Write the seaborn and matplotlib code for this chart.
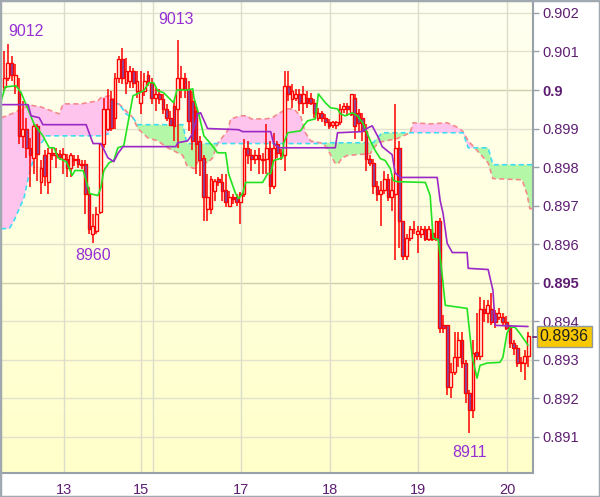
import numpy as np
import pandas as pd
import matplotlib
matplotlib.use('Agg')
import matplotlib.pyplot as plt
import matplotlib.transforms as mtransforms
from matplotlib.colors import LinearSegmentedColormap
from matplotlib.patches import Rectangle
import seaborn as sns

# H1 candles
opens = [0.90008, 0.90032, 0.90070, 0.90011, 0.89998, 0.89881, 0.89900, 0.89850, 0.89824, 0.89907,
         0.89760, 0.89830, 0.89760, 0.89837, 0.89830, 0.89835, 0.89822, 0.89822, 0.89798, 0.89822,
         0.89822, 0.89809, 0.89809, 0.89731, 0.89627, 0.89635, 0.89682, 0.89861, 0.89900, 0.89977,
         0.89928, 0.90032, 0.90081, 0.90019, 0.90024, 0.90050, 0.89998, 0.89967, 0.89998, 0.90039,
         0.90019, 0.89980, 0.89990, 0.89977, 0.89951, 0.89928, 0.89959, 0.89951, 0.90003, 0.90032,
         0.90003, 0.89972, 0.89946, 0.89868, 0.89824, 0.89692, 0.89692, 0.89739, 0.89770, 0.89760,
         0.89741, 0.89700, 0.89721, 0.89721, 0.89708, 0.89731, 0.89850, 0.89832, 0.89822, 0.89832,
         0.89822, 0.89822, 0.89850, 0.89752, 0.89861, 0.89837, 0.89830, 0.90011, 0.89977, 0.89980,
         0.89990, 0.89967, 0.89980, 0.89980, 0.89967, 0.89928, 0.89941, 0.89928, 0.89918, 0.89910,
         0.89910, 0.89918, 0.89951, 0.89959, 0.89938, 0.89980, 0.89941, 0.89928, 0.89894, 0.89822,
         0.89811, 0.89752, 0.89731, 0.89741, 0.89770, 0.89721, 0.89731, 0.89850, 0.89661, 0.89570,
         0.89617, 0.89640, 0.89627, 0.89627, 0.89640, 0.89612, 0.89630, 0.89617, 0.89661, 0.89389,
         0.89389, 0.89229, 0.89267, 0.89306, 0.89350, 0.89291, 0.89213, 0.89169, 0.89319, 0.89309,
         0.89431, 0.89420, 0.89431, 0.89420, 0.89410, 0.89410, 0.89397, 0.89381, 0.89342, 0.89330,
         0.89293, 0.89291, 0.89309]
highs = [0.90102, 0.90120, 0.90089, 0.90068, 0.90032, 0.89972, 0.89928, 0.89876, 0.89912, 0.89912,
         0.89817, 0.89843, 0.89850, 0.89850, 0.89850, 0.89843, 0.89850, 0.89835, 0.89837, 0.89830,
         0.89830, 0.89817, 0.89817, 0.89747, 0.89679, 0.89695, 0.89861, 0.89980, 0.90003, 0.89998,
         0.90045, 0.90089, 0.90109, 0.90083, 0.90063, 0.90058, 0.90050, 0.90050, 0.90045, 0.90050,
         0.90032, 0.90006, 0.90003, 0.89990, 0.89964, 0.89946, 0.89972, 0.90130, 0.90063, 0.90045,
         0.90024, 0.89998, 0.89959, 0.89881, 0.89830, 0.89783, 0.89778, 0.89770, 0.89775, 0.89783,
         0.89783, 0.89739, 0.89729, 0.89729, 0.89734, 0.89874, 0.89868, 0.89848, 0.89843, 0.89850,
         0.89837, 0.89912, 0.89868, 0.89889, 0.89868, 0.89848, 0.90050, 0.90050, 0.90016, 0.90003,
         0.90003, 0.90011, 0.89998, 0.89993, 0.89977, 0.89954, 0.89946, 0.89938, 0.89925, 0.89920,
         0.89920, 0.89964, 0.89967, 0.89967, 0.89990, 0.89990, 0.89951, 0.89941, 0.89912, 0.89830,
         0.89822, 0.89765, 0.89765, 0.89791, 0.89783, 0.89773, 0.89964, 0.89868, 0.89661, 0.89627,
         0.89648, 0.89661, 0.89648, 0.89648, 0.89646, 0.89646, 0.89640, 0.89661, 0.89669, 0.89415,
         0.89389, 0.89291, 0.89371, 0.89371, 0.89371, 0.89298, 0.89221, 0.89350, 0.89420, 0.89462,
         0.89454, 0.89454, 0.89472, 0.89428, 0.89433, 0.89420, 0.89412, 0.89389, 0.89350, 0.89337,
         0.89306, 0.89324, 0.89371]
lows = [0.89998, 0.90024, 0.90024, 0.89990, 0.89861, 0.89850, 0.89824, 0.89747, 0.89783, 0.89765,
        0.89731, 0.89752, 0.89731, 0.89817, 0.89798, 0.89817, 0.89783, 0.89773, 0.89773, 0.89804,
        0.89798, 0.89796, 0.89679, 0.89627, 0.89602, 0.89627, 0.89679, 0.89850, 0.89894, 0.89894,
        0.89900, 0.90019, 0.90016, 0.89990, 0.90006, 0.90006, 0.89980, 0.89938, 0.89985, 0.90011,
        0.89964, 0.89946, 0.89964, 0.89938, 0.89920, 0.89907, 0.89868, 0.89850, 0.89980, 0.89980,
        0.89894, 0.89843, 0.89783, 0.89778, 0.89661, 0.89661, 0.89679, 0.89713, 0.89752, 0.89713,
        0.89695, 0.89695, 0.89705, 0.89700, 0.89653, 0.89721, 0.89809, 0.89791, 0.89809, 0.89783,
        0.89783, 0.89783, 0.89731, 0.89744, 0.89824, 0.89817, 0.89791, 0.89972, 0.89954, 0.89972,
        0.89946, 0.89938, 0.89954, 0.89962, 0.89928, 0.89920, 0.89918, 0.89907, 0.89900, 0.89902,
        0.89900, 0.89910, 0.89941, 0.89933, 0.89933, 0.89874, 0.89894, 0.89868, 0.89791, 0.89804,
        0.89731, 0.89713, 0.89648, 0.89731, 0.89713, 0.89687, 0.89558, 0.89591, 0.89558, 0.89558,
        0.89609, 0.89627, 0.89578, 0.89615, 0.89609, 0.89609, 0.89609, 0.89609, 0.89368, 0.89368,
        0.89208, 0.89200, 0.89260, 0.89280, 0.89278, 0.89187, 0.89109, 0.89148, 0.89298, 0.89298,
        0.89397, 0.89394, 0.89389, 0.89381, 0.89402, 0.89389, 0.89376, 0.89330, 0.89311, 0.89280,
        0.89267, 0.89247, 0.89280]
closes = [0.90032, 0.90070, 0.90039, 0.90039, 0.89881, 0.89900, 0.89850, 0.89832, 0.89907, 0.89835,
          0.89798, 0.89778, 0.89837, 0.89832, 0.89837, 0.89827, 0.89835, 0.89798, 0.89830, 0.89817,
          0.89809, 0.89806, 0.89731, 0.89640, 0.89648, 0.89679, 0.89861, 0.89951, 0.89951, 0.89902,
          0.90032, 0.90081, 0.90032, 0.90050, 0.90050, 0.90019, 0.90024, 0.89998, 0.90024, 0.90024,
          0.89980, 0.89990, 0.89977, 0.89951, 0.89928, 0.89910, 0.89907, 0.90032, 0.90032, 0.90003,
          0.89920, 0.89868, 0.89861, 0.89817, 0.89721, 0.89721, 0.89770, 0.89765, 0.89760, 0.89739,
          0.89708, 0.89721, 0.89718, 0.89708, 0.89731, 0.89850, 0.89830, 0.89822, 0.89832, 0.89822,
          0.89819, 0.89850, 0.89752, 0.89850, 0.89837, 0.89830, 0.90011, 0.89990, 0.89998, 0.89990,
          0.89967, 0.89990, 0.89967, 0.89967, 0.89941, 0.89941, 0.89928, 0.89918, 0.89907, 0.89918,
          0.89918, 0.89951, 0.89959, 0.89951, 0.89990, 0.89907, 0.89915, 0.89894, 0.89822, 0.89811,
          0.89752, 0.89731, 0.89741, 0.89770, 0.89721, 0.89741, 0.89850, 0.89661, 0.89570, 0.89617,
          0.89640, 0.89638, 0.89633, 0.89640, 0.89612, 0.89640, 0.89612, 0.89661, 0.89381, 0.89381,
          0.89229, 0.89267, 0.89306, 0.89350, 0.89291, 0.89213, 0.89169, 0.89317, 0.89309, 0.89431,
          0.89420, 0.89441, 0.89397, 0.89397, 0.89420, 0.89397, 0.89381, 0.89342, 0.89330, 0.89291,
          0.89291, 0.89309, 0.89361]

# Tenkan-sen (green) vertices
tenkan_x = [-0.8, 0.3, 3.2, 4.6, 8.1, 10.5, 12.2, 13.5, 14.6, 16.8, 17.6, 18.4, 19.2, 21.4, 22.2,
            23.2, 25.4, 26.2, 27.0, 28.4, 29.7, 30.8, 32.4, 34.9, 37.8, 39.2, 40.5, 41.6, 43.2, 45.9,
            46.8, 49.7, 51.1, 51.4, 52.7, 54.1, 55.9, 57.8, 60.0, 60.8, 61.9, 62.7, 63.5, 64.6, 65.4,
            70.0, 71.4, 72.2, 73.0, 75.4, 75.7, 76.8, 80.3, 81.1, 82.2, 84.3, 85.1, 87.0, 88.4, 90.3,
            91.1, 92.4, 94.3, 95.7, 97.3, 99.2, 100.5, 101.9, 103.2, 104.6, 105.4, 106.5, 114.1, 115.4,
            116.2, 117.6, 118.6, 119.5, 125.4, 126.8, 128.1, 128.9, 130.8, 134.3, 135.1, 136.2, 137.0,
            138.4, 139.7, 141.6, 141.9]
tenkan_y = [0.89972, 0.90008, 0.90011, 0.89993, 0.89912, 0.89881, 0.89850, 0.89850, 0.89824, 0.89814,
            0.89798, 0.89778, 0.89791, 0.89791, 0.89765, 0.89731, 0.89726, 0.89747, 0.89791, 0.89811,
            0.89817, 0.89850, 0.89855, 0.89985, 0.89998, 0.90019, 0.90019, 0.89998, 0.89993, 0.89967,
            0.90000, 0.90000, 0.90003, 0.89980, 0.89938, 0.89881, 0.89861, 0.89837, 0.89837, 0.89783,
            0.89752, 0.89731, 0.89718, 0.89731, 0.89760, 0.89760, 0.89783, 0.89783, 0.89817, 0.89824,
            0.89861, 0.89889, 0.89894, 0.89907, 0.89920, 0.89925, 0.89990, 0.89967, 0.89954, 0.89951,
            0.89938, 0.89933, 0.89941, 0.89933, 0.89912, 0.89868, 0.89843, 0.89822, 0.89817, 0.89796,
            0.89765, 0.89762, 0.89760, 0.89726, 0.89615, 0.89612, 0.89524, 0.89441, 0.89433, 0.89306,
            0.89252, 0.89285, 0.89291, 0.89293, 0.89306, 0.89368, 0.89384, 0.89384, 0.89368, 0.89342,
            0.89337]

# Kijun-sen (purple) vertices
kijun_x = [-0.8, 6.5, 7.3, 9.5, 10.5, 22.2, 23.5, 24.1, 26.2, 28.1, 29.7, 30.8, 32.2, 46.5, 47.0,
           49.7, 51.1, 52.4, 53.2, 55.1, 63.5, 64.6, 72.2, 73.0, 74.3, 89.7, 90.3, 97.0, 98.6, 99.7,
           101.4, 102.4, 105.1, 105.9, 107.3, 117.3, 118.1, 118.9, 120.0, 121.4, 125.4, 125.7, 131.1,
           132.4, 133.0, 141.9]
kijun_y = [0.89962, 0.89962, 0.89933, 0.89928, 0.89910, 0.89910, 0.89876, 0.89861, 0.89861, 0.89824,
           0.89814, 0.89835, 0.89853, 0.89853, 0.89863, 0.89868, 0.89887, 0.89938, 0.89941, 0.89900,
           0.89897, 0.89892, 0.89892, 0.89861, 0.89850, 0.89850, 0.89889, 0.89892, 0.89902, 0.89907,
           0.89876, 0.89853, 0.89832, 0.89785, 0.89773, 0.89773, 0.89713, 0.89679, 0.89602, 0.89578,
           0.89578, 0.89537, 0.89534, 0.89480, 0.89389, 0.89386]

# Senkou spans (cloud), shared x
cloud_x = [-0.8, 1.4, 2.7, 5.4, 6.8, 8.1, 10.0, 11.4, 14.9, 16.0, 20.8, 25.4, 26.2, 28.4, 30.3, 31.1,
           33.0, 34.9, 36.2, 38.9, 41.6, 44.3, 47.0, 48.4, 49.5, 51.4, 52.7, 55.1, 56.5, 57.8, 60.5,
           61.4, 64.1, 65.9, 66.8, 70.8, 72.7, 74.1, 76.8, 78.4, 80.3, 81.6, 83.0, 86.5, 87.8, 89.7,
           90.5, 91.6, 93.0, 99.2, 100.0, 101.4, 102.4, 106.5, 110.0, 110.8, 115.4, 120.0, 123.0,
           124.3, 125.7, 128.1, 131.1, 132.4, 140.3, 141.6, 142.4, 143.2]
span_a = [0.89928, 0.89936, 0.89941, 0.89954, 0.89962, 0.89959, 0.89956, 0.89951, 0.89938, 0.89964,
          0.89964, 0.89972, 0.89980, 0.89985, 0.89972, 0.89964, 0.89946, 0.89928, 0.89900, 0.89876,
          0.89868, 0.89850, 0.89837, 0.89830, 0.89804, 0.89796, 0.89817, 0.89811, 0.89824, 0.89861,
          0.89894, 0.89925, 0.89933, 0.89933, 0.89925, 0.89925, 0.89928, 0.89938, 0.89951, 0.89951,
          0.89933, 0.89889, 0.89868, 0.89861, 0.89843, 0.89809, 0.89809, 0.89824, 0.89830, 0.89835,
          0.89848, 0.89863, 0.89866, 0.89874, 0.89889, 0.89915, 0.89912, 0.89915, 0.89902, 0.89892,
          0.89868, 0.89843, 0.89811, 0.89770, 0.89767, 0.89731, 0.89692, 0.89692]
span_b = [0.89640, 0.89640, 0.89661, 0.89721, 0.89783, 0.89824, 0.89861, 0.89881, 0.89881, 0.89881,
          0.89881, 0.89881, 0.89881, 0.89887, 0.89964, 0.89964, 0.89938, 0.89928, 0.89910, 0.89910,
          0.89910, 0.89910, 0.89910, 0.89910, 0.89861, 0.89861, 0.89861, 0.89861, 0.89861, 0.89861,
          0.89861, 0.89861, 0.89861, 0.89861, 0.89861, 0.89861, 0.89861, 0.89861, 0.89861, 0.89861,
          0.89861, 0.89861, 0.89861, 0.89861, 0.89863, 0.89863, 0.89863, 0.89863, 0.89863, 0.89863,
          0.89863, 0.89879, 0.89889, 0.89889, 0.89889, 0.89889, 0.89889, 0.89889, 0.89889, 0.89889,
          0.89850, 0.89850, 0.89850, 0.89806, 0.89806, 0.89806, 0.89806, 0.89806]

day_pos = [16, 37, 40, 64, 88, 112, 136]
day_labels = ['13', '15', '', '17', '18', '19', '20']
price_ticks = [0.891, 0.892, 0.893, 0.894, 0.895, 0.896, 0.897, 0.898, 0.899, 0.900, 0.901, 0.902]
price_labels = ['0.891', '0.892', '0.893', '0.894', '0.895', '0.896', '0.897', '0.898', '0.899',
                '0.9', '0.901', '0.902']
bold_levels = ['0.9', '0.895']
# extreme labels: text, candle index, which side
marks = [('9012', 1, 'high'), ('9013', 47, 'high'), ('8960', 24, 'low'), ('8911', 126, 'low')]
last_price = 0.8936

df = pd.DataFrame({'open': opens, 'high': highs, 'low': lows, 'close': closes})
df['i'] = np.arange(len(df))
df['up'] = df['close'] >= df['open']

sns.set_style('white')
plt.rcParams['font.family'] = ['Liberation Sans', 'DejaVu Sans']

fig = plt.figure(figsize=(6.0, 4.97), dpi=100)
ax = fig.add_axes([0.002, 0.0483, 0.886, 0.9497])

xmin, xmax = -0.8, 143.2
ymin, ymax = 0.890057, 0.902311
ax.set_xlim(xmin, xmax)
ax.set_ylim(ymin, ymax)

# background gradient
cmap = LinearSegmentedColormap.from_list('bg', ['#ffffca', '#fffff2'])
ax.imshow(np.linspace(0, 1, 256).reshape(-1, 1), cmap=cmap, origin='lower', aspect='auto',
          extent=[xmin, xmax, ymin, ymax], zorder=0)

# grid
for p, lab in zip(price_ticks, price_labels):
    ax.axhline(p, color='#cfcfb0' if lab in bold_levels else '#e2e2cc', lw=1.0, zorder=1)
for d in day_pos:
    ax.axvline(d + 0.2, color='#dcdccb', lw=1.0, zorder=1)

# cloud
ca = np.array(span_a)
cb = np.array(span_b)
ax.fill_between(cloud_x, ca, cb, where=ca >= cb, interpolate=True, color='#ffc4ee', lw=0, zorder=2)
ax.fill_between(cloud_x, ca, cb, where=ca < cb, interpolate=True, color='#b4f7a6', lw=0, zorder=2)
ax.plot(cloud_x, span_a, color='#f58a8a', lw=1.2, ls=(0, (3, 2)), zorder=3)
ax.plot(cloud_x, span_b, color='#3fdcf2', lw=1.2, ls=(0, (3, 2)), zorder=3)

# candles
ax.vlines(df['i'], df['low'], df['high'], color='#ff0000', lw=1.1, zorder=4)
body_lo = df[['open', 'close']].min(axis=1)
body_h = (df['close'] - df['open']).abs()
ax.bar(df['i'], body_h, bottom=body_lo, width=0.74,
       color=np.where(df['up'], '#ffffee', '#7a4fae'), edgecolor='#ff0000', linewidth=1.0, zorder=5)

# tenkan / kijun
sns.lineplot(x=tenkan_x, y=tenkan_y, ax=ax, color='#22e322', lw=1.2, zorder=6)
sns.lineplot(x=kijun_x, y=kijun_y, ax=ax, color='#9b28c6', lw=1.2, zorder=6)

# extreme labels
for txt, idx, side in marks:
    if side == 'high':
        ax.annotate(txt, (idx, highs[idx]), xytext=(13 if idx < 5 else -1, 9 if idx < 5 else 15),
                    textcoords='offset points', ha='center', va='center', fontsize=11.5, color='#9630d4')
    else:
        ax.annotate(txt, (idx, lows[idx]), xytext=(0, -9 if idx < 100 else -14),
                    textcoords='offset points', ha='center', va='center', fontsize=11.5, color='#9630d4')

# axes styling
ax.yaxis.tick_right()
ax.set_yticks(price_ticks)
ax.set_yticklabels(price_labels)
ax.set_xticks([d + 0.2 for d in day_pos])
ax.set_xticklabels(day_labels)
ax.tick_params(axis='both', length=4, width=1, color='#98a0a8', labelsize=10.5, labelcolor='#5e1e72', pad=3)
for t in ax.get_yticklabels():
    if t.get_text() in bold_levels:
        t.set_fontweight('bold')
for s in ['top', 'left']:
    ax.spines[s].set_visible(False)
for s in ['right', 'bottom']:
    ax.spines[s].set_color('#98a0a8')
    ax.spines[s].set_linewidth(1.5)
ax.set_xlabel('')
ax.set_ylabel('')

# last price box
trans = mtransforms.blended_transform_factory(ax.transAxes, ax.transData)
ax.plot([1.0, 1.008], [last_price, last_price], transform=trans, color='#5e1e72', lw=1.2,
        clip_on=False, zorder=7)
ax.text(1.013, last_price, f'{last_price:.4f}', transform=trans, ha='left', va='center',
        fontsize=11.5, color='#202020', zorder=8,
        bbox=dict(boxstyle='square,pad=0.2', fc='#f8c800', ec='#9098a0', lw=1))

# figure frame
fig.patches.append(Rectangle((0, 0), 1, 1, transform=fig.transFigure, fill=False,
                             ec='#a0a8b0', lw=2.5, zorder=10))

fig.savefig('out.png', dpi=100)
